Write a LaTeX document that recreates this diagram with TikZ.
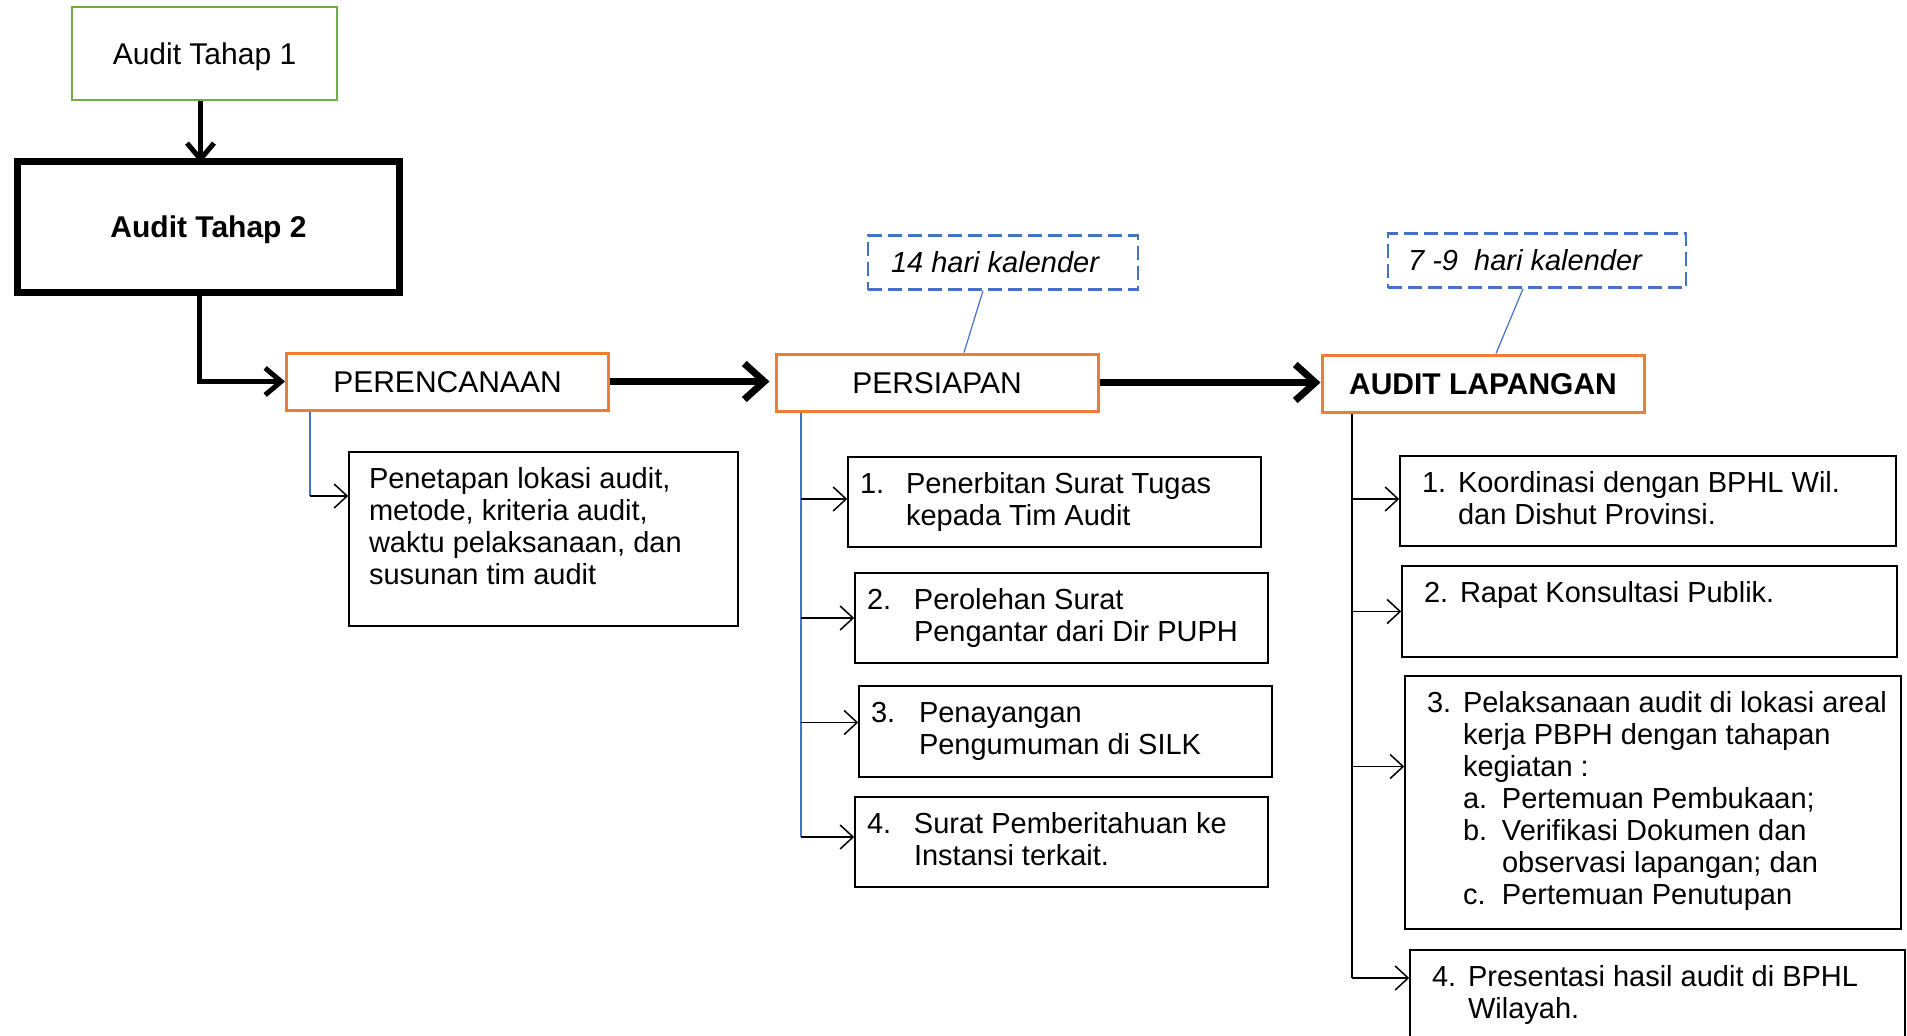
\documentclass[tikz,border=0pt]{standalone}
\usepackage{fontspec}
\setmainfont{Liberation Sans}
\usepackage{xcolor}
\usepackage{tikz}
\usetikzlibrary{arrows.meta,backgrounds}
\definecolor{StageGreen}{HTML}{70AD47}
\definecolor{StageOrange}{HTML}{ED7D31}
\definecolor{NoteBlue}{HTML}{4472C4}
\newcommand{\BoxText}[3]{\parbox[c][#2][t]{#1}{#3}}
\newcommand{\NumItem}[3]{\begin{tabular}[t]{@{}p{#1}@{}l@{}}#2 & #3\end{tabular}}
\tikzset{%
  StageStyle/.style={draw,line width=2.5pt,inner sep=0pt,text height=21pt,text depth=0pt,font=\fontsize{30}{36}\selectfont},
  PhaseStyle/.style={draw=StageOrange,line width=3pt,inner sep=0pt,minimum width=322pt,minimum height=57pt,text height=21pt,text depth=0pt,font=\fontsize{30}{36}\selectfont},
  NoteStyle/.style={draw=NoteBlue,line width=2.5pt,dash pattern=on 14pt off 6pt,inner sep=0pt,minimum height=54pt,font=\fontsize{29}{34}\selectfont\itshape},
  TaskStyle/.style={draw,line width=1.5pt,inner xsep=12pt,inner ysep=14pt,font=\fontsize{29}{32}\selectfont},
  StageArrow/.style={line width=5pt,-{Straight Barb[length=16pt,width=27pt]}},
  PhaseArrow/.style={line width=7pt,-{Straight Barb[length=20pt,width=36pt]}},
  FlowArrow/.style={line width=1.5pt,-{Straight Barb[length=13pt,width=24pt]}},
  NoteLine/.style={draw=NoteBlue,line width=1.2pt}
}

\begin{document}
\begin{tikzpicture}[x=1pt,y=-1pt]
\useasboundingbox (0,0) rectangle (1907,1036);

\node (t1) [StageStyle,draw=StageGreen,minimum width=265pt,minimum height=93pt] at (204.5,53.5) {Audit Tahap 1};
\node (t2) [StageStyle,line width=7pt,minimum width=382pt,minimum height=131pt,font=\fontsize{30}{36}\selectfont\bfseries] at (208.5,227) {Audit Tahap 2};

\node (plan) [PhaseStyle] at (447.5,381.5) {PERENCANAAN};
\node (prep) [PhaseStyle] at (937,382.5) {PERSIAPAN};
\node (field) [PhaseStyle,font=\fontsize{30}{36}\selectfont\bfseries] at (1483,383.5) {AUDIT LAPANGAN};

\node (note1) [NoteStyle,minimum width=270pt] at (1003,262.5) {14 hari kalender\hspace*{16pt}};
\node (note2) [NoteStyle,minimum width=298pt] at (1537,260.5) {7 -9\ \ hari kalender\hspace*{24pt}};

\node (setbox) [TaskStyle,inner xsep=20pt] at (543.5,539) {\BoxText{349pt}{146pt}{\begin{tabular}[t]{@{}l@{}}Penetapan lokasi audit,\\metode, kriteria audit,\\waktu pelaksanaan, dan\\susunan tim audit\end{tabular}}};

\node (prep1) [TaskStyle] at (1054.5,502) {\BoxText{389pt}{62pt}{\NumItem{46pt}{1.}{Penerbitan Surat Tugas\\ & kepada Tim Audit}}};
\node (prep2) [TaskStyle] at (1061.5,618) {\BoxText{389pt}{62pt}{\NumItem{47pt}{2.}{Perolehan Surat\\ & Pengantar dari Dir PUPH}}};
\node (prep3) [TaskStyle] at (1065.5,731.5) {\BoxText{389pt}{63pt}{\NumItem{48pt}{3.}{Penayangan\\ & Pengumuman di SILK}}};
\node (prep4) [TaskStyle] at (1061.5,842) {\BoxText{389pt}{62pt}{\NumItem{47pt}{4.}{Surat Pemberitahuan ke\\ & Instansi terkait.}}};

\node (field1) [TaskStyle,inner xsep=22pt] at (1648,501) {\BoxText{452pt}{62pt}{\NumItem{36pt}{1.}{Koordinasi dengan BPHL Wil.\\ & dan Dishut Provinsi.}}};
\node (field2) [TaskStyle,inner xsep=22pt] at (1649.5,611.5) {\BoxText{451pt}{63pt}{\NumItem{36pt}{2.}{Rapat Konsultasi Publik.}}};
\node (field3) [TaskStyle,inner xsep=22pt] at (1653,802.5) {\BoxText{452pt}{225pt}{\NumItem{36pt}{3.}{Pelaksanaan audit di lokasi areal\\ & kerja PBPH dengan tahapan\\ & kegiatan :\\ & \makebox[39pt][l]{a.}Pertemuan Pembukaan;\\ & \makebox[39pt][l]{b.}Verifikasi Dokumen dan\\ & \hspace*{39pt}observasi lapangan; dan\\ & \makebox[39pt][l]{c.}Pertemuan Penutupan}}};
\node (field4) [TaskStyle,inner xsep=22pt] at (1657.5,1000) {\BoxText{451pt}{72pt}{\NumItem{36pt}{4.}{Presentasi hasil audit di BPHL\\ & Wilayah.}}};

\coordinate (t1out) at ([xshift=-4pt]t1.south);
\coordinate (planj) at ([xshift=-137.5pt]plan.south);
\coordinate (setin) at ([yshift=43pt]setbox.west);
\coordinate (prepj) at ([xshift=-136pt]prep.south);
\coordinate (prep1in) at ([yshift=3pt]prep1.west);
\coordinate (prep2in) at (prep2.west);
\coordinate (prep3in) at ([yshift=9pt]prep3.west);
\coordinate (prep4in) at ([yshift=5pt]prep4.west);
\coordinate (fieldj) at ([xshift=-131pt]field.south);
\coordinate (field1in) at ([yshift=2pt]field1.west);
\coordinate (field2in) at (field2.west);
\coordinate (field3in) at ([yshift=36pt]field3.west);
\coordinate (field4in) at ([yshift=22pt]field4.west);

\begin{scope}[on background layer]
    \draw [StageArrow,shorten >=-5pt] (t1out) -- (t1out |- t2.north);
    \draw [StageArrow] ([xshift=-9pt]t2.south) |- (plan.west);
    \draw [PhaseArrow,shorten >=5pt] (plan.east) -- (plan.east -| prep.west);
    \draw [PhaseArrow] (prep.east) -- (prep.east -| field.west);
    \draw [NoteLine] ([xshift=-20pt]note1.south) -- ([xshift=27pt]prep.north);
    \draw [NoteLine] ([xshift=-14pt]note2.south) -- ([xshift=13pt]field.north);
    \draw [NoteLine] (planj) -- (planj |- setin);
    \draw [FlowArrow] (planj |- setin) -- (setin);
    \draw [NoteLine] (prepj) -- (prepj |- prep4in);
    \draw [FlowArrow] (prepj |- prep1in) -- (prep1in);
    \draw [FlowArrow] (prepj |- prep2in) -- (prep2in);
    \draw [FlowArrow] (prepj |- prep3in) -- (prep3in);
    \draw [FlowArrow] (prepj |- prep4in) -- (prep4in);
    \draw [line width=1.5pt] (fieldj) -- (fieldj |- field4in);
    \draw [FlowArrow] (fieldj |- field1in) -- (field1in);
    \draw [FlowArrow] (fieldj |- field2in) -- (field2in);
    \draw [FlowArrow] (fieldj |- field3in) -- (field3in);
    \draw [FlowArrow] (fieldj |- field4in) -- (field4in);
\end{scope}
\end{tikzpicture}
\end{document}
